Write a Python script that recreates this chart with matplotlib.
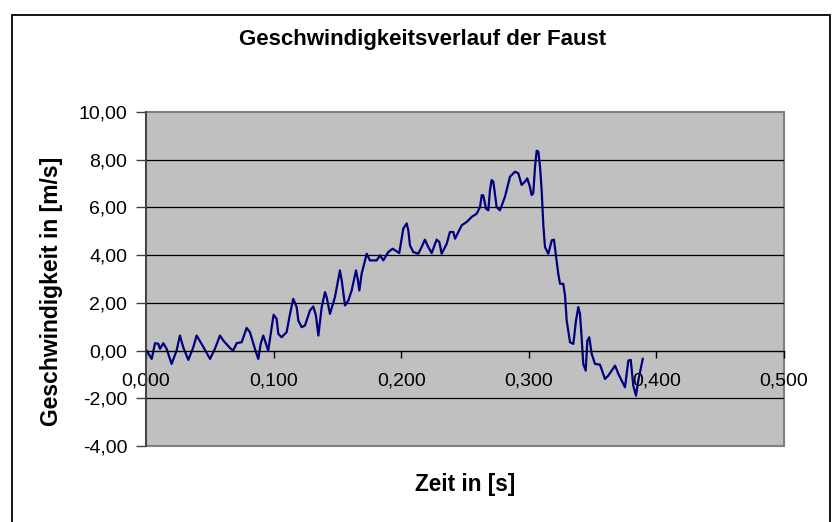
import matplotlib
matplotlib.use('Agg')
import matplotlib.pyplot as plt
from matplotlib.ticker import FuncFormatter, MultipleLocator
from matplotlib.patches import Rectangle

plt.rcParams['font.family'] = ['Liberation Sans', 'DejaVu Sans']

# Zeit in s
zeit = [0.0005, 0.0045, 0.0071, 0.0097, 0.0110, 0.0136, 0.0162, 0.0201, 0.0240, 0.0266,
        0.0292, 0.0332, 0.0371, 0.0397, 0.0436, 0.0502, 0.0540, 0.0580, 0.0606, 0.0658,
        0.0684, 0.0711, 0.0750, 0.0789, 0.0815, 0.0854, 0.0880, 0.0899, 0.0919, 0.0958,
        0.1000, 0.1024, 0.1037, 0.1063, 0.1102, 0.1129, 0.1154, 0.1181, 0.1194, 0.1220,
        0.1246, 0.1285, 0.1311, 0.1332, 0.1351, 0.1377, 0.1403, 0.1416, 0.1442, 0.1481,
        0.1520, 0.1534, 0.1560, 0.1586, 0.1612, 0.1646, 0.1659, 0.1672, 0.1690, 0.1730,
        0.1755, 0.1808, 0.1834, 0.1860, 0.1899, 0.1933, 0.1985, 0.2017, 0.2043, 0.2056,
        0.2069, 0.2095, 0.2134, 0.2160, 0.2186, 0.2212, 0.2239, 0.2278, 0.2299, 0.2317,
        0.2357, 0.2382, 0.2409, 0.2422, 0.2474, 0.2513, 0.2552, 0.2592, 0.2618, 0.2631,
        0.2643, 0.2665, 0.2683, 0.2696, 0.2709, 0.2722, 0.2748, 0.2774, 0.2813, 0.2853,
        0.2892, 0.2918, 0.2944, 0.2970, 0.2988, 0.3009, 0.3022, 0.3035, 0.3049, 0.3062,
        0.3075, 0.3088, 0.3101, 0.3114, 0.3127, 0.3153, 0.3180, 0.3197, 0.3231, 0.3245,
        0.3270, 0.3284, 0.3297, 0.3323, 0.3349, 0.3370, 0.3388, 0.3401, 0.3414, 0.3427,
        0.3446, 0.3459, 0.3474, 0.3493, 0.3519, 0.3558, 0.3597, 0.3623, 0.3676, 0.3702,
        0.3754, 0.3780, 0.3799, 0.3819, 0.3840, 0.3858, 0.3893]

# Geschwindigkeit in m/s
geschw = [0.00, -0.35, 0.31, 0.28, 0.07, 0.31, 0.07, -0.56, 0.00, 0.63,
          0.14, -0.39, 0.14, 0.63, 0.28, -0.35, 0.07, 0.63, 0.42, 0.11,
          0.00, 0.31, 0.35, 0.95, 0.77, 0.07, -0.35, 0.28, 0.63, 0.00,
          1.50, 1.33, 0.70, 0.56, 0.77, 1.54, 2.17, 1.82, 1.26, 0.98,
          1.05, 1.68, 1.85, 1.47, 0.63, 1.82, 2.45, 2.24, 1.54, 2.24,
          3.36, 2.94, 1.89, 2.10, 2.52, 3.36, 3.01, 2.52, 3.22, 4.06,
          3.78, 3.78, 3.99, 3.78, 4.13, 4.27, 4.09, 5.12, 5.33, 5.04,
          4.41, 4.13, 4.06, 4.34, 4.65, 4.34, 4.09, 4.65, 4.55, 4.06,
          4.48, 4.97, 4.97, 4.69, 5.25, 5.39, 5.60, 5.74, 6.02, 6.51,
          6.51, 5.95, 5.88, 6.73, 7.15, 7.08, 6.02, 5.88, 6.44, 7.29,
          7.50, 7.43, 6.94, 7.08, 7.22, 6.86, 6.52, 6.59, 7.71, 8.38,
          8.34, 7.71, 6.72, 5.25, 4.34, 4.06, 4.62, 4.65, 3.22, 2.80,
          2.80, 2.31, 1.26, 0.35, 0.28, 1.26, 1.82, 1.54, 0.56, -0.56,
          -0.84, 0.42, 0.56, -0.14, -0.56, -0.59, -1.19, -1.05, -0.63, -0.98,
          -1.54, -0.42, -0.39, -1.47, -1.89, -1.26, -0.35]

fig = plt.figure(figsize=(8.36, 5.22), dpi=100)
ax = fig.add_axes([0.1746, 0.1456, 0.7632, 0.6398])

# Rahmen um das Diagramm
fig.patches.append(Rectangle((0.0144, -0.01), 0.9785, 0.9813, transform=fig.transFigure,
                             fill=False, edgecolor='black', linewidth=1.3))

ax.set_facecolor('#C0C0C0')
ax.plot(zeit, geschw, color='#000080', linewidth=1.6, solid_joinstyle='round')

ax.set_xlim(0, 0.5)
ax.set_ylim(-4, 10)
ax.xaxis.set_major_locator(MultipleLocator(0.1))
ax.yaxis.set_major_locator(MultipleLocator(2))
ax.xaxis.set_major_formatter(FuncFormatter(lambda v, p: f'{v:.3f}'.replace('.', ',')))
ax.yaxis.set_major_formatter(FuncFormatter(lambda v, p: f'{v:.2f}'.replace('.', ',')))

for y in [-2, 2, 4, 6, 8]:
    ax.axhline(y, color='black', linewidth=0.9, zorder=1)

ax.spines['bottom'].set_position(('data', 0))
ax.spines['bottom'].set_color('black')
ax.spines['bottom'].set_linewidth(1.0)
ax.spines['left'].set_color('#404040')
ax.spines['left'].set_linewidth(1.3)
ax.spines['top'].set_visible(False)
ax.spines['right'].set_visible(False)
ax.add_patch(Rectangle((0, 0), 1, 1, transform=ax.transAxes, fill=False,
                       edgecolor='#808080', linewidth=1.5, zorder=0.5, clip_on=False))

ax.tick_params(axis='x', direction='out', length=5, width=1, color='black',
               labelsize=14, pad=11)
ax.tick_params(axis='y', direction='out', length=7, width=1, color='#404040',
               labelsize=14, pad=6.5)

fig.text(0.505, 0.925, 'Geschwindigkeitsverlauf der Faust', ha='center', va='center',
         fontsize=16, fontweight='bold')
fig.text(0.062, 0.4425, 'Geschwindigkeit in [m/s]', ha='center', va='center',
         rotation=90, fontsize=16.5, fontweight='bold')
fig.text(0.556, 0.071, 'Zeit in [s]', ha='center', va='center',
         fontsize=16.3, fontweight='bold')

fig.savefig('out.png', dpi=100)
